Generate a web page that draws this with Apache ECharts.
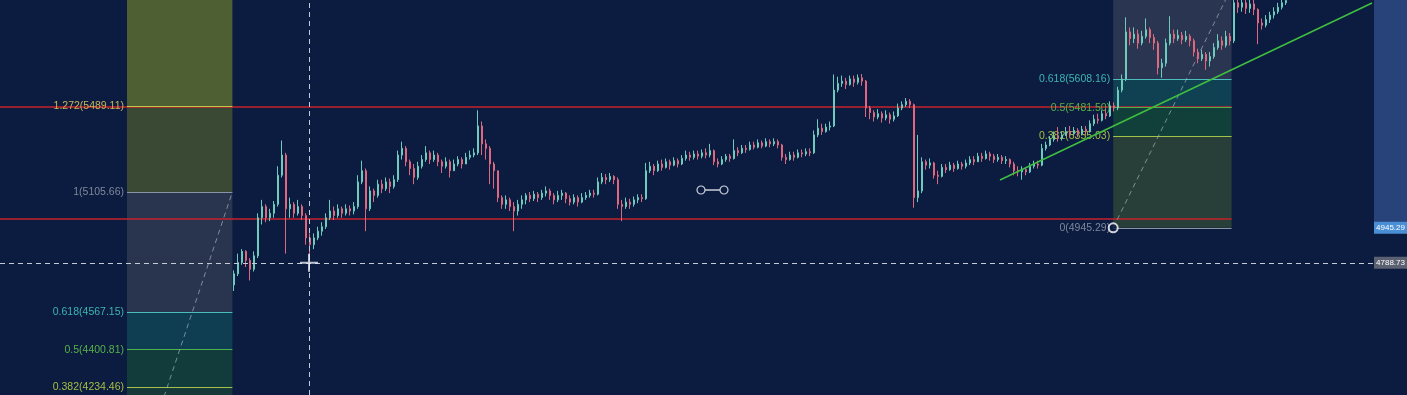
<!DOCTYPE html>
<html>
<head>
<meta charset="utf-8">
<script src="https://cdn.jsdelivr.net/npm/echarts@6/dist/echarts.min.js"></script>
<style>
html,body{margin:0;padding:0;background:#0c1b40;overflow:hidden;}
#c{width:1407px;height:395px;}
</style>
</head>
<body>
<div id="c"></div>
<script>
// ---------- DATA ----------
const firstOpen = 4690;
const closes = [
4740,4790,4840,4800,4760,4820,4990,5040,4990,5010,
5050,5180,5270,5030,5050,5010,5040,5000,4900,4870,
4900,4930,4950,4990,5020,5000,5030,5010,5030,5020,
5040,5150,5200,5030,5110,5090,5140,5120,5150,5130,
5160,5270,5300,5240,5210,5170,5220,5250,5280,5250,
5270,5240,5220,5240,5200,5230,5250,5230,5260,5270,
5280,5400,5320,5300,5230,5200,5080,5050,5070,5040,
5020,5050,5070,5090,5075,5095,5080,5100,5110,5090,
5070,5090,5100,5075,5060,5080,5060,5080,5090,5100,
5095,5150,5170,5160,5175,5160,5050,5040,5060,5050,
5070,5080,5075,5200,5220,5200,5230,5215,5240,5225,
5245,5230,5255,5270,5260,5275,5265,5280,5270,5290,
5240,5230,5250,5265,5255,5290,5280,5300,5295,5315,
5305,5325,5310,5330,5320,5330,5315,5260,5250,5270,
5260,5280,5275,5285,5280,5360,5390,5375,5395,5400,
5560,5590,5600,5585,5610,5595,5615,5600,5480,5460,
5440,5455,5435,5450,5430,5445,5480,5495,5510,5495,
5080,5110,5240,5225,5235,5180,5175,5215,5205,5225,
5210,5230,5220,5235,5250,5240,5265,5255,5275,5265,
5250,5260,5245,5250,5230,5200,5195,5205,5195,5220,
5230,5225,5300,5315,5340,5350,5345,5360,5375,5365,
5380,5365,5385,5375,5410,5430,5425,5455,5445,5490,
5480,5560,5610,5820,5790,5810,5770,5800,5830,5795,
5770,5660,5680,5770,5810,5790,5805,5785,5800,5780,
5730,5700,5720,5690,5710,5750,5780,5760,5800,5780,
5950,5930,5950,5925,5945,5920,5860,5850,5875,5895,
5910,5930,5950,5960
];
const highs = [
4755,4830,4850,4845,4810,4840,5010,5070,5050,5030,
5065,5220,5335,5280,5080,5060,5070,5050,5010,4920,
4920,4950,4970,5010,5070,5040,5050,5040,5050,5045,
5060,5180,5245,5210,5130,5120,5160,5160,5170,5165,
5180,5290,5330,5310,5250,5230,5240,5270,5310,5290,
5290,5280,5250,5260,5250,5250,5265,5260,5280,5290,
5300,5470,5420,5340,5310,5240,5200,5090,5090,5080,
5060,5070,5090,5100,5105,5110,5105,5115,5130,5120,
5100,5110,5115,5105,5090,5095,5090,5100,5105,5115,
5115,5170,5190,5185,5190,5180,5170,5070,5080,5075,
5085,5095,5095,5235,5240,5230,5245,5250,5255,5250,
5260,5255,5270,5290,5285,5290,5290,5295,5300,5320,
5295,5255,5265,5275,5275,5340,5305,5315,5315,5330,
5330,5340,5335,5345,5340,5345,5340,5320,5275,5285,
5285,5295,5295,5300,5300,5380,5430,5410,5410,5420,
5630,5620,5625,5615,5625,5625,5630,5632,5605,5490,
5470,5475,5465,5470,5460,5465,5500,5510,5525,5520,
5500,5360,5260,5250,5255,5240,5200,5230,5230,5240,
5235,5245,5240,5250,5265,5265,5280,5280,5290,5285,
5275,5275,5270,5265,5255,5240,5220,5220,5215,5235,
5245,5245,5320,5330,5355,5375,5395,5375,5395,5400,
5395,5390,5400,5400,5425,5450,5455,5470,5475,5510,
5505,5575,5630,5885,5840,5840,5830,5825,5880,5840,
5810,5780,5700,5790,5890,5830,5830,5820,5825,5810,
5790,5745,5740,5730,5730,5770,5810,5800,5825,5815,
5990,5980,5990,5975,5980,5965,5925,5880,5895,5910,
5930,5950,5965,5985
];
const lows = [
4663,4730,4780,4770,4710,4750,4810,4960,4970,4975,
4990,5040,5170,4830,4990,4990,5000,4980,4870,4760,
4850,4890,4910,4940,4980,4980,4990,4990,5000,5000,
5005,5030,5140,4930,5020,5060,5080,5100,5110,5100,
5120,5150,5250,5220,5180,5140,5160,5210,5240,5230,
5240,5220,5190,5210,5170,5200,5220,5210,5230,5250,
5260,5270,5270,5250,5140,5120,5060,5030,5030,5020,
4930,5000,5030,5050,5060,5065,5060,5070,5085,5070,
5050,5060,5070,5055,5045,5050,5040,5055,5070,5080,
5080,5090,5140,5140,5150,5140,5030,4975,5030,5030,
5040,5055,5060,5070,5190,5180,5195,5200,5210,5205,
5220,5215,5225,5245,5245,5250,5250,5255,5255,5260,
5225,5215,5225,5240,5240,5250,5265,5275,5280,5290,
5295,5300,5300,5305,5305,5310,5300,5245,5230,5245,
5245,5255,5260,5265,5265,5275,5350,5360,5370,5380,
5395,5550,5575,5565,5580,5575,5585,5580,5440,5430,
5420,5430,5415,5425,5410,5420,5440,5470,5485,5480,
5035,5060,5100,5205,5210,5165,5140,5170,5190,5200,
5195,5205,5205,5210,5225,5225,5240,5240,5250,5245,
5235,5240,5230,5230,5215,5180,5175,5160,5180,5190,
5210,5210,5220,5290,5310,5330,5330,5335,5355,5350,
5360,5350,5360,5360,5370,5400,5410,5420,5430,5440,
5465,5470,5550,5600,5760,5770,5745,5760,5790,5770,
5740,5630,5615,5665,5760,5770,5780,5765,5775,5755,
5710,5680,5690,5650,5665,5700,5740,5740,5750,5760,
5770,5905,5910,5900,5905,5895,5765,5830,5840,5860,
5880,5900,5920,5940
];

// Fibonacci drawings (ratio -> price), anchors in (bar index, price)
const leftFibRatios = [0, 0.236, 0.382, 0.5, 0.618, 1, 1.272, 1.618];
const leftFibPrices = [3695.96, 4028.64, 4234.46, 4400.81, 4567.15, 5105.66, 5489.11, 5976.88];
const leftFibTime   = [-26.75, -0.4];
const rightFibRatios = [0, 0.382, 0.5, 0.618, 1];
const rightFibPrices = [4945.29, 5355.03, 5481.50, 5608.16, 6017.71];
const rightFibTime   = [219.8, 249.4];

const redLinePrices = [5486, 4984.5];
const redLineTime = [-58.5, 249.4];
const trendTime = [191.5, 284.5];
const trendPrice = [5158.7, 5949];
const crossTime = 18.75;
const crossPrice = 4788.73;
const handleTime = [116.75, 122.5];
const handlePrice = 5114;

// ---------- STYLE ----------
const leftZoneColors  = ['#123434','#16393a','#113c3b','#0f3e52','#29344f','#3a4934','#4e6033'];
const leftLineColors  = ['#8794a6','#c0504d','#a4c24a','#4fb04f','#4cbcbc','#8794a6','#c2c64a','#8a9ab0'];
const leftLabelColors = ['#7e889a','#c0504d','#a6bf45','#56b347','#3db5b0','#7e889a','#c7b75c','#8a9ab0'];
const rightZoneColors  = ['#283e39','#113f3a','#0f4152','#2a3552'];
const rightLineColors  = ['#8794a6','#a4c24a','#4fb04f','#4cbcbc','#8794a6'];
const rightLabelColors = ['#7e889a','#a6bf45','#56b347','#3db5b0','#7e889a'];

const X_MIN = -58.5, X_MAX = 293.25, Y_MIN = 4198.7, Y_MAX = 5962.4;
const AXIS_X0 = 285;
const FONT = 'Liberation Sans';

const candleData = closes.map((c, i) => [i, i === 0 ? firstOpen : closes[i - 1], c, lows[i], highs[i]]);

function fibLabel(r, p) { return r + '(' + p.toFixed(2) + ')'; }

function zones(prices, colors, t) {
  const out = [];
  for (let i = 0; i < prices.length - 1; i++) {
    out.push([{ coord: [t[0], prices[i]], itemStyle: { color: colors[i] } },
              { coord: [t[1], prices[i + 1]] }]);
  }
  return out;
}
function levels(ratios, prices, lineColors, labelColors, t, skip) {
  const out = [];
  for (let i = 0; i < prices.length; i++) {
    if (skip && skip.indexOf(ratios[i]) >= 0) continue;
    out.push([{ coord: [t[0], prices[i]], name: fibLabel(ratios[i], prices[i]),
                lineStyle: { color: lineColors[i] }, label: { color: labelColors[i] } },
              { coord: [t[1], prices[i]] }]);
  }
  return out;
}

const option = {
  animation: false,
  backgroundColor: '#0c1b40',
  grid: { left: 0, right: 0, top: 0, bottom: 0 },
  xAxis: { type: 'value', min: X_MIN, max: X_MAX, show: false },
  yAxis: { type: 'value', min: Y_MIN, max: Y_MAX, show: false },
  series: [
    { // fib zones + axis highlight
      type: 'line', data: [], silent: true, z: 1,
      markArea: {
        silent: true, z: 1,
        data: zones(leftFibPrices, leftZoneColors, leftFibTime)
          .concat(zones(rightFibPrices, rightZoneColors, rightFibTime))
          .concat([[{ coord: [AXIS_X0, rightFibPrices[0]], itemStyle: { color: '#27437a' } },
                    { coord: [X_MAX, rightFibPrices[rightFibPrices.length - 1]] }]])
      }
    },
    { // red horizontal lines
      type: 'line', data: [], silent: true, z: 2,
      markLine: {
        silent: true, symbol: ['none', 'none'], z: 2,
        lineStyle: { color: '#c4232b', width: 1.5, type: 'solid' },
        label: { show: false },
        data: redLinePrices.map(p => [{ coord: [redLineTime[0], p] }, { coord: [redLineTime[1], p] }])
      }
    },
    { // fib levels
      type: 'line', data: [], silent: true, z: 3,
      markLine: {
        silent: true, symbol: ['none', 'none'], z: 3,
        lineStyle: { width: 1, type: 'solid' },
        label: { show: true, position: 'start', distance: 3, formatter: '{b}',
                 fontSize: 10.5, fontFamily: FONT },
        data: levels(leftFibRatios, leftFibPrices, leftLineColors, leftLabelColors, leftFibTime, [0, 0.236])
          .concat(levels(rightFibRatios, rightFibPrices, rightLineColors, rightLabelColors, rightFibTime))
      }
    },
    { // fib diagonal (left)
      type: 'line', silent: true, z: 4, symbol: 'none', clip: true,
      lineStyle: { color: 'rgba(175,185,200,0.65)', width: 1, type: [5, 4] },
      data: [[leftFibTime[0], leftFibPrices[0]], [leftFibTime[1], leftFibPrices[5]]]
    },
    { // fib diagonal (right)
      type: 'line', silent: true, z: 4, symbol: 'none', clip: true,
      lineStyle: { color: 'rgba(175,185,200,0.65)', width: 1, type: [5, 4] },
      data: [[rightFibTime[0], rightFibPrices[0]], [rightFibTime[1], rightFibPrices[4]]]
    },
    {
      type: 'candlestick', z: 5, barWidth: 2,
      encode: { x: 0, y: [1, 2, 3, 4] },
      itemStyle: { color: '#6ccbbd', color0: '#e0687e', borderColor: '#6ccbbd', borderColor0: '#e0687e', borderWidth: 1 },
      data: candleData
    },
    { // trend line
      type: 'line', silent: true, z: 6, symbol: 'none',
      lineStyle: { color: '#3fbf3f', width: 1.5 },
      data: [[trendTime[0], trendPrice[0]], [trendTime[1], trendPrice[1]]]
    },
    { // handle o—o
      type: 'line', silent: true, z: 6, symbol: 'circle', symbolSize: 8,
      itemStyle: { color: '#0c1b40', borderColor: '#c9d0da', borderWidth: 1.2 },
      lineStyle: { color: '#c9d0da', width: 1.5 },
      data: [[handleTime[0], handlePrice], [handleTime[1], handlePrice]]
    },
    { // crosshair + tags
      type: 'line', data: [], silent: true, z: 7,
      markLine: {
        silent: true, symbol: ['none', 'none'], z: 7,
        lineStyle: { color: '#c3cbd6', width: 1, type: [5, 4] },
        label: { show: false },
        data: [
          [{ coord: [crossTime, Y_MIN] }, { coord: [crossTime, Y_MAX] }],
          [{ coord: [X_MIN, crossPrice] }, { coord: [AXIS_X0, crossPrice] }]
        ]
      },
      markPoint: {
        silent: true, z: 8,
        symbol: 'rect', symbolSize: [33, 12],
        label: { show: true, position: 'inside', fontSize: 8, fontFamily: FONT, color: '#ffffff' },
        data: [
          { coord: [(AXIS_X0 + X_MAX) / 2, rightFibPrices[0]], value: rightFibPrices[0].toFixed(2),
            itemStyle: { color: '#4a8fd6' } },
          { coord: [(AXIS_X0 + X_MAX) / 2, crossPrice], value: crossPrice.toFixed(2),
            itemStyle: { color: '#5b6170' } }
        ]
      }
    },
    { // anchor ring + cursor plus
      type: 'scatter', silent: true, z: 9,
      data: [
        { value: [rightFibTime[0], rightFibPrices[0]], symbol: 'circle', symbolSize: 9,
          itemStyle: { color: '#0c1b40', borderColor: '#ffffff', borderWidth: 2 } },
        { value: [crossTime, crossPrice], symbol: 'path://M8,0H10V8H18V10H10V18H8V10H0V8H8Z', symbolSize: [18, 18],
          itemStyle: { color: '#e8eef5' } }
      ]
    }
  ]
};

const chart = echarts.init(document.getElementById('c'), null, { renderer: 'canvas' });
chart.setOption(option);
</script>
</body>
</html>
